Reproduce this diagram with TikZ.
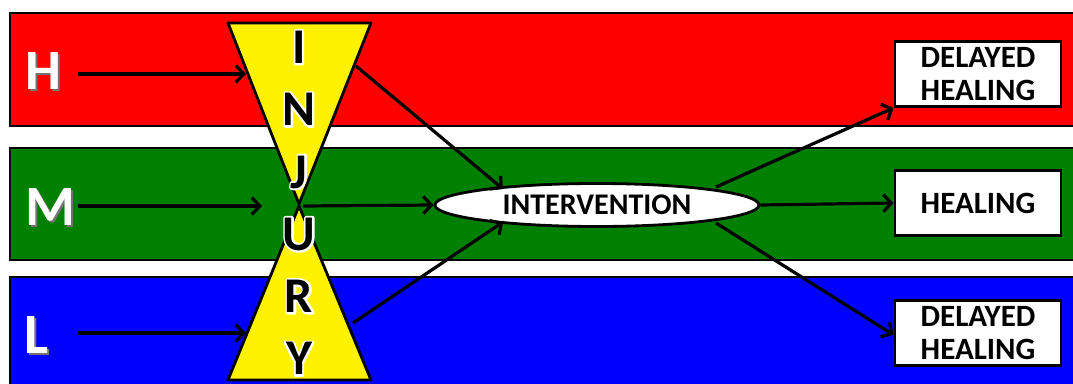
\documentclass[tikz,border=0pt]{standalone}
\usepackage{fontspec}
\setmainfont{Carlito}
\usetikzlibrary{arrows.meta,shapes.geometric}
\newcommand{\glowtext}[1]{\special{pdf:literal direct 1 1 1 RG 4 w 1 j 1 Tr}#1\special{pdf:literal direct 0 Tr}}
\begin{document}
\begin{tikzpicture}[x=1pt,y=-1pt,
  band/.style={draw=black,line width=2.8pt},
  conn/.style={line width=3.2pt,-{Straight Barb[length=8pt,width=17pt,line width=3.2pt]}},
  lvl/.style={text=white,font=\bfseries\fontsize{57}{57}\selectfont,inner sep=0pt},
  lvlsh/.style={text=black!55,font=\bfseries\fontsize{57}{57}\selectfont,inner sep=0pt},
  outbox/.style={draw=black,fill=white,line width=2.8pt,minimum width=166pt,minimum height=65pt,align=center,font=\bfseries\fontsize{31}{33}\selectfont,inner sep=0pt},
  letter/.style={font=\bfseries\fontsize{50}{50}\selectfont,inner sep=0pt,text=black}]
\useasboundingbox (0,0) rectangle (1073,383);
% bands
\fill[white] (0,0) rectangle (1073,383);
\draw[band,fill={rgb,255:red,255;green,0;blue,0}] (10,13) rectangle (1090,126);
\draw[band,fill={rgb,255:red,0;green,128;blue,0}] (10,148) rectangle (1090,260);
\draw[band,fill={rgb,255:red,0;green,0;blue,255}] (10,277) rectangle (1090,400);
% triangles
\draw[band,fill=yellow,line join=round] (228,23) -- (371,23) -- (299,204) -- cycle;
\draw[band,fill=yellow,line join=round] (228,380) -- (371,380) -- (299,206) -- cycle;
% letters
\node[letter,align=center,font=\bfseries\fontsize{50}{62.3}\selectfont] (injglow) at (299,203) {\glowtext{I\\N\\J\\U\\R\\Y}};
\node[letter,align=center,font=\bfseries\fontsize{50}{62.3}\selectfont] (injury) at (299,203) {I\\N\\J\\U\\R\\Y};
% level labels
\node[lvlsh] at (45,73) {H};
\node[lvl] (H) at (43,71) {H};
\node[lvlsh] at (52,209) {M};
\node[lvl] (M) at (50,207) {M};
\node[lvlsh] at (39,337) {L};
\node[lvl] (L) at (37,335) {L};
% coordinates
\coordinate (hs) at (78,74);
\coordinate (he) at (246,74);
\coordinate (ms) at (78,206);
\coordinate (me) at (262,206);
\coordinate (ls) at (78,333);
\coordinate (le) at (246,333);
\coordinate (th) at (356,66);
\coordinate (tm) at (303,206);
\coordinate (tl) at (353,323);
% intervention
\node[draw=black,fill=white,line width=2.8pt,ellipse,minimum width=324pt,minimum height=43pt,inner sep=0pt,font=\bfseries\fontsize{30}{30}\selectfont] (int) at (597,205) {INTERVENTION};
% boxes
\node[outbox] (d1) at (978,74) {DELAYED\\HEALING};
\node[outbox] (h) at (978,203) {HEALING};
\node[outbox] (d2) at (978,333) {DELAYED\\HEALING};
% arrows
\draw[conn] (hs) -- (he);
\draw[conn] (ms) -- (me);
\draw[conn] (ls) -- (le);
\draw[conn] (th) -- (503,189);
\draw[conn] (tm) -- (int.west);
\draw[conn] (tl) -- (503,222);
\draw[conn] (716,187) -- (d1.south west);
\draw[conn] (int.east) -- (h.west);
\draw[conn] (716,223) -- ([yshift=-2pt]d2.west);
\end{tikzpicture}
\end{document}
